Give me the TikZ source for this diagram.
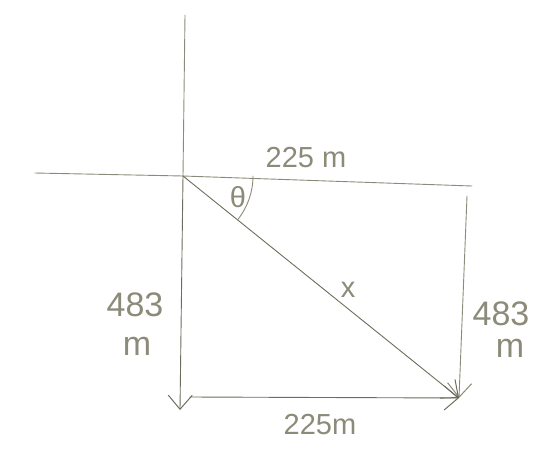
\documentclass[tikz,border=0pt]{standalone}
\usepackage{fontspec}
\setmainfont{Liberation Sans}
\usetikzlibrary{arrows.meta}
\definecolor{pencil}{HTML}{8C8A78}
\definecolor{pencilD}{HTML}{6E6C5C}
\begin{document}
\begin{tikzpicture}[x=1pt,y=-1pt,
  stroke/.style={draw=pencil,line width=0.9pt,line cap=round},
  vtip/.style={-{Straight Barb[length=14pt,width=24pt,line width=1pt]}},
  lbl/.style={text=pencil,font=\fontsize{29}{31}\selectfont,inner sep=0pt},
  biglbl/.style={text=pencil,font=\fontsize{34}{36}\selectfont,inner sep=0pt}]
\useasboundingbox (0,0) rectangle (539,448);
% named points
\coordinate (ytop) at (185,15);
\coordinate (o) at (183,176);
\coordinate (xl) at (35,173);
\coordinate (xr) at (472,186);
\coordinate (bl) at (180,410);
\coordinate (rt) at (467,196);
\coordinate (br) at (459,398);
\coordinate (bs) at (190,397);
% axes
\draw[stroke] (ytop) -- (o);
\draw[stroke,draw=pencilD,vtip] (o) -- (bl);
\draw[stroke] (xl) -- (o) -- (xr);
% right side and bottom
\draw[stroke,vtip] (rt) -- (br);
\draw[stroke,draw=pencilD,vtip] (bs) -- (br);
% diagonal
\draw[stroke,draw=pencilD,vtip] (o) -- (br);
% angle arc
\draw[stroke] ([shift={(70,0)}]o) arc[start angle=0,end angle=39,radius=70];
% labels
\node[lbl] (theta) at (238,197) {θ};
\node[lbl] (top) at (306,158) {225 m};
\node[lbl] (xlab) at (348,290) {x};
\node[biglbl] (l483) at (135,305) {483};
\node[biglbl] (lm) at (137,346) {m};
\node[biglbl] (r483) at (501,314) {483};
\node[biglbl] (rm) at (510,348) {m};
\node[lbl] (bot) at (320,425) {225m};
\end{tikzpicture}
\end{document}
